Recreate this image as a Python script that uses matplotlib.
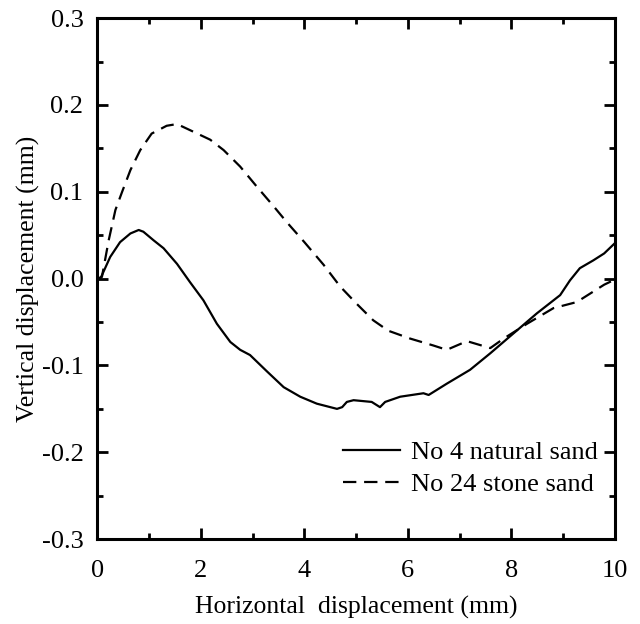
import numpy as np
import matplotlib.pyplot as plt
from matplotlib.ticker import MultipleLocator

# No 4 natural sand (solid)
x_nat = [0.0, 0.06, 0.25, 0.44, 0.64, 0.80, 0.89, 1.09, 1.28, 1.54, 1.79, 2.05, 2.31, 2.57,
         2.76, 2.95, 3.28, 3.60, 3.92, 4.24, 4.63, 4.73, 4.82, 4.95, 5.30, 5.46, 5.56, 5.85,
         6.30, 6.40, 6.75, 7.2, 7.59, 8.04, 8.49, 8.94, 9.13, 9.32, 9.58, 9.79, 10.0]
y_nat = [0.0, 0.0, 0.025, 0.042, 0.052, 0.056, 0.054, 0.044, 0.035, 0.017, -0.004, -0.025,
         -0.052, -0.073, -0.082, -0.088, -0.107, -0.125, -0.136, -0.144, -0.150, -0.148,
         -0.142, -0.140, -0.142, -0.148, -0.142, -0.136, -0.132, -0.134, -0.121, -0.105,
         -0.086, -0.063, -0.040, -0.019, -0.002, 0.012, 0.021, 0.029, 0.041]

# No 24 stone sand (dashed)
x_stone = [0.0, 0.09, 0.22, 0.35, 0.48, 0.64, 0.83, 1.05, 1.34, 1.54, 1.79, 2.18, 2.44, 2.76,
           3.08, 3.41, 3.66, 4.0, 4.37, 4.69, 5.01, 5.33, 5.62, 6.04, 6.49, 6.75, 7.14, 7.59,
           7.85, 8.30, 8.81, 9.26, 9.79, 10.0]
y_stone = [0.0, 0.002, 0.044, 0.079, 0.10, 0.125, 0.148, 0.167, 0.176, 0.178, 0.171, 0.160,
           0.148, 0.129, 0.106, 0.083, 0.065, 0.042, 0.016, -0.009, -0.029, -0.048, -0.060,
           -0.069, -0.077, -0.082, -0.072, -0.080, -0.069, -0.052, -0.034, -0.027, -0.007,
           -0.001]

labels = ['No 4 natural sand', 'No 24 stone sand']

plt.rcParams['font.family'] = ['Liberation Serif', 'DejaVu Serif']

fig = plt.figure(figsize=(6.4, 6.24), dpi=100)
ax = fig.add_axes([0.152, 0.136, 0.809, 0.835])

ax.plot(x_nat, y_nat, color='k', lw=1.6, ls='-', label=labels[0])
ax.plot(x_stone, y_stone, color='k', lw=1.6, ls=(0, (6, 3.5)), label=labels[1])

ax.set_xlim(0, 10)
ax.set_ylim(-0.3, 0.3)
ax.xaxis.set_minor_locator(MultipleLocator(1))
ax.yaxis.set_minor_locator(MultipleLocator(0.05))
ax.set_xticks([0, 2, 4, 6, 8, 10])
ax.set_xticklabels(['0', '2', '4', '6', '8', '10'])
ax.set_yticks([-0.3, -0.2, -0.1, 0.0, 0.1, 0.2, 0.3])
ax.set_yticklabels(['-0.3', '-0.2', '-0.1', '0.0', '0.1', '0.2', '0.3'])

ax.tick_params(which='both', direction='in', top=True, right=True, width=2, labelsize=19)
ax.tick_params(axis='y', pad=10)
ax.tick_params(axis='x', pad=15)
ax.tick_params(which='major', length=8)
ax.tick_params(which='minor', length=4)
for s in ax.spines.values():
    s.set_linewidth(2.2)

ax.set_xlabel('Horizontal  displacement (mm)', fontsize=18.5, labelpad=10)
ax.set_ylabel('Vertical displacement (mm)', fontsize=18.5, labelpad=1)

ax.legend(loc='lower right', bbox_to_anchor=(0.988, 0.062), frameon=False, fontsize=19,
          handlelength=2.15, handletextpad=0.45, labelspacing=0.32, borderaxespad=0)

fig.savefig('out.png', dpi=100)
